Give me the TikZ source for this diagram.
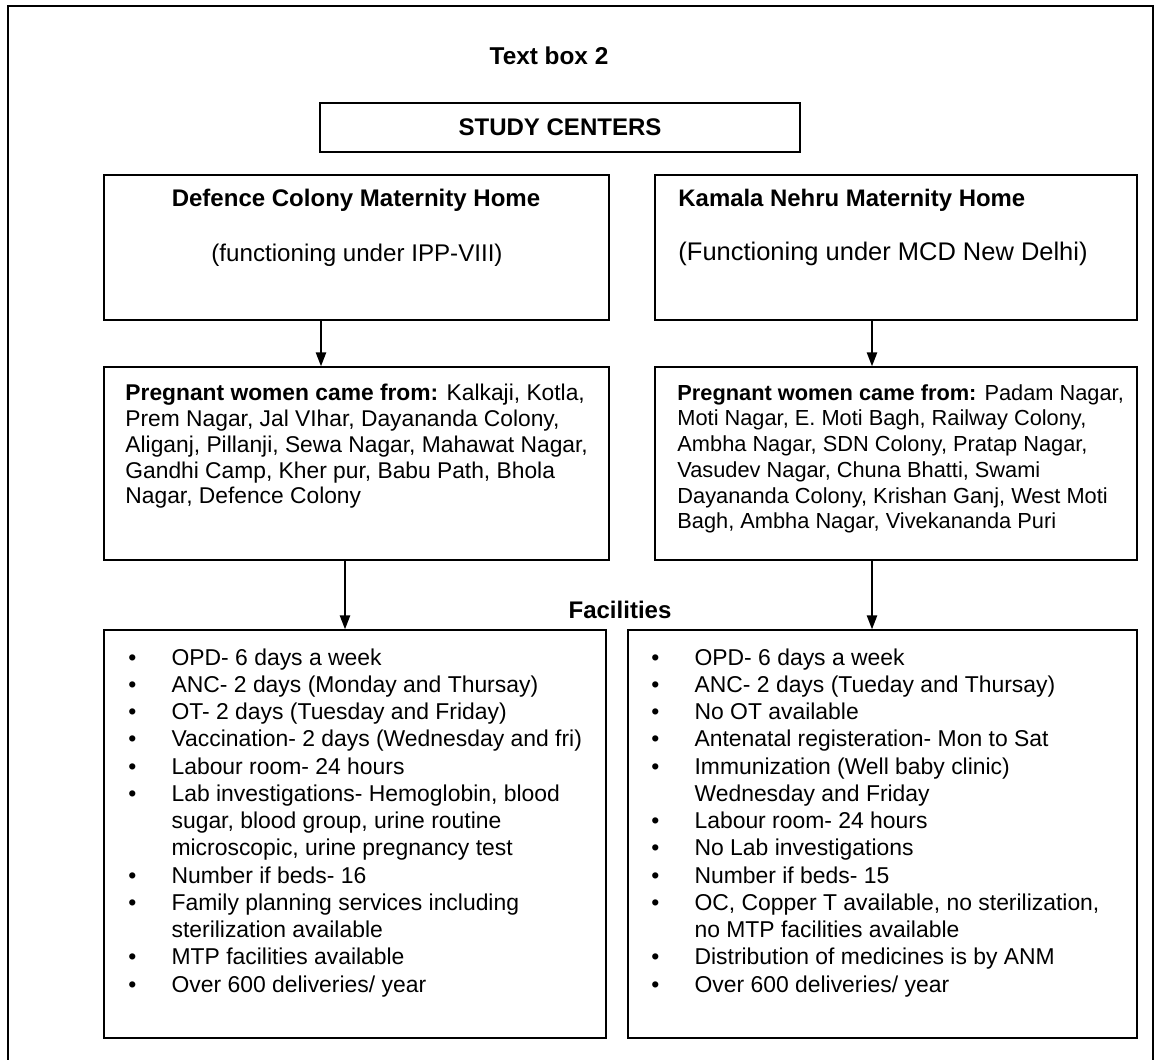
\documentclass[tikz,border=0pt]{standalone}
\usepackage{fontspec}
\setmainfont{Liberation Sans}
\usetikzlibrary{arrows.meta,fit}

\newcommand{\blt}{\makebox[19.3pt][l]{\textbullet}}
\newcommand{\cnt}{\hspace*{19.3pt}}

\begin{document}
\begin{tikzpicture}[x=0.4475pt, y=-0.4475pt,
  box/.style={draw, line width=0.7pt, inner sep=0pt},
  txt/.style={inner sep=0pt, anchor=north west, align=left, font=\fontsize{10.2pt}{11.5pt}\selectfont},
  lst/.style={txt, font=\fontsize{10.25pt}{12.2pt}\selectfont},
  head/.style={inner sep=0pt, font=\fontsize{10.75pt}{11.5pt}\selectfont\bfseries},
  sub/.style={inner sep=0pt, font=\fontsize{10.8pt}{11.5pt}\selectfont},
  arr/.style={-{Triangle[length=6.2pt,width=4.6pt]}, line width=0.7pt}]
  \useasboundingbox (0,0) rectangle (1156,1059);

  % outer frame, cut at the bottom
  \draw[line width=0.7pt] (8,1075) -- (8,6) -- (1153,6) -- (1153,1075);
  \node[head, font=\fontsize{10.9pt}{11.5pt}\selectfont\bfseries] (heading) at (549,56) {Text box 2};

  % boxes
  \node[box, fit={(320,103) (800,152)}] (study) {};
  \node[box, fit={(104,175) (609,320)}] (defence) {};
  \node[box, fit={(655,175) (1137,320)}] (kamala) {};
  \node[box, fit={(104,367) (609,560)}] (fromL) {};
  \node[box, fit={(655,367) (1137,560)}] (fromR) {};
  \node[box, fit={(104,630) (606,1038)}] (facL) {};
  \node[box, fit={(628,630) (1137,1038)}] (facR) {};

  % labels
  \node[head] (studylbl) at (study.center) {STUDY CENTERS};
  \node[head] (defname) at (356,200) {Defence Colony Maternity Home};
  \node[sub] (defsub) at (357,255) {(functioning under IPP-VIII)};
  \node[head, font=\fontsize{10.7pt}{11.5pt}\selectfont\bfseries, anchor=west] (kamname) at (678,200) {Kamala Nehru Maternity Home};
  \node[sub, font=\fontsize{11.4pt}{11.5pt}\selectfont, anchor=west] (kamsub) at (678,254) {(Functioning under MCD New Delhi)};
  \node[head] (faclbl) at (620,610) {Facilities};

  \node[txt] (areasL) at (125,384) {\textbf{Pregnant women came from:} Kalkaji, Kotla,\\
    Prem Nagar, Jal VIhar, Dayananda Colony,\\
    Aliganj, Pillanji, Sewa Nagar, Mahawat Nagar,\\
    Gandhi Camp, Kher pur, Babu Path, Bhola\\
    Nagar, Defence Colony};
  \node[txt, font=\fontsize{9.75pt}{11.5pt}\selectfont] (areasR) at (677,384) {\textbf{Pregnant women came from:} Padam Nagar,\\
    Moti Nagar, E. Moti Bagh, Railway Colony,\\
    Ambha Nagar, SDN Colony, Pratap Nagar,\\
    Vasudev Nagar, Chuna Bhatti, Swami\\
    Dayananda Colony, Krishan Ganj, West Moti\\
    Bagh, Ambha Nagar, Vivekananda Puri};

  \node[lst] (listL) at (128,648) {\blt OPD- 6 days a week\\
    \blt ANC- 2 days (Monday and Thursay)\\
    \blt OT- 2 days (Tuesday and Friday)\\
    \blt Vaccination- 2 days (Wednesday and fri)\\
    \blt Labour room- 24 hours\\
    \blt Lab investigations- Hemoglobin, blood\\
    \cnt sugar, blood group, urine routine\\
    \cnt microscopic, urine pregnancy test\\
    \blt Number if beds- 16\\
    \blt Family planning services including\\
    \cnt sterilization available\\
    \blt MTP facilities available\\
    \blt Over 600 deliveries/ year};
  \node[lst] (listR) at (651,648) {\blt OPD- 6 days a week\\
    \blt ANC- 2 days (Tueday and Thursay)\\
    \blt No OT available\\
    \blt Antenatal registeration- Mon to Sat\\
    \blt Immunization (Well baby clinic)\\
    \cnt Wednesday and Friday\\
    \blt Labour room- 24 hours\\
    \blt No Lab investigations\\
    \blt Number if beds- 15\\
    \blt OC, Copper T available, no sterilization,\\
    \cnt no MTP facilities available\\
    \blt Distribution of medicines is by ANM\\
    \blt Over 600 deliveries/ year};

  % connectors
  \coordinate (colA) at (321,0);
  \coordinate (colB) at (872,0);
  \coordinate (colC) at (345,0);
  \draw[arr] (defence.south -| colA) -- (fromL.north -| colA);
  \draw[arr] (kamala.south -| colB) -- (fromR.north -| colB);
  \draw[arr] (fromL.south -| colC) -- (facL.north -| colC);
  \draw[arr] (fromR.south -| colB) -- (facR.north -| colB);
\end{tikzpicture}
\end{document}
